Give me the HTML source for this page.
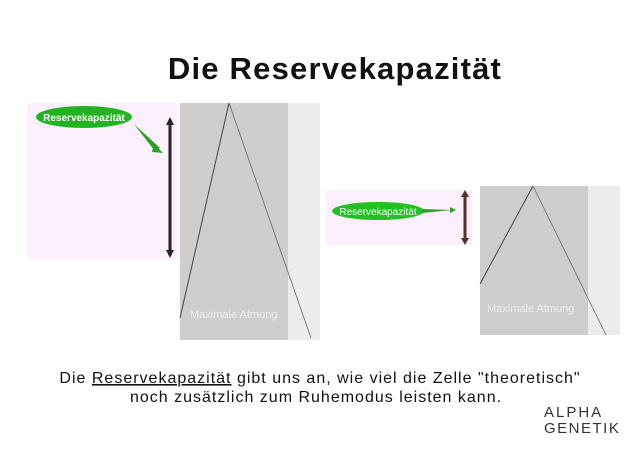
<!DOCTYPE html>
<html><head><meta charset="utf-8"><style>
body{margin:0;width:640px;height:454px;background:#fff;overflow:hidden;font-family:"Liberation Sans",sans-serif;}
</style></head><body>
<svg width="640" height="454" xmlns="http://www.w3.org/2000/svg" style="position:absolute;left:0;top:0">
<text x="335" y="79" text-anchor="middle" font-family="Liberation Sans" font-weight="bold" font-size="31" letter-spacing="1.2" fill="#111">Die Reservekapazität</text>
<!-- left -->
<rect x="27" y="103" width="150" height="156" fill="#fbf0fb"/>
<rect x="180" y="103" width="108" height="237" fill="#cdcdcd"/>
<rect x="288" y="103" width="32" height="237" fill="#ececec"/>
<line x1="229" y1="103" x2="180" y2="318" stroke="#444" stroke-width="1"/>
<line x1="229" y1="103" x2="311" y2="338" stroke="#666" stroke-width="0.8"/>
<text x="190" y="318" font-size="11" fill="#eee">Maximale Atmung</text>
<ellipse cx="84" cy="117" rx="48" ry="11" fill="#22b322"/>
<text x="84" y="121" text-anchor="middle" font-size="10" font-weight="bold" fill="#fff">Reservekapazität</text>
<polygon points="134,124 160,148 154,150" fill="#2aa02a"/>
<polygon points="154,144 163,153 152,152" fill="#2aa02a"/>
<line x1="170" y1="122" x2="170" y2="252" stroke="#222" stroke-width="3"/>
<polygon points="170,117 166,125 174,125" fill="#222"/>
<polygon points="170,258 166,250 174,250" fill="#222"/>
<!-- right -->
<rect x="326" y="190" width="146" height="55" fill="#fbf0fb"/>
<rect x="480" y="186" width="108" height="149" fill="#cdcdcd"/>
<rect x="588" y="186" width="32" height="149" fill="#ececec"/>
<line x1="533" y1="186" x2="480" y2="284" stroke="#444" stroke-width="1"/>
<line x1="533" y1="186" x2="606" y2="335" stroke="#666" stroke-width="0.8"/>
<text x="487" y="312" font-size="11" fill="#eee">Maximale Atmung</text>
<ellipse cx="378" cy="211" rx="46" ry="9" fill="#22c022"/>
<text x="378" y="215" text-anchor="middle" font-size="10" fill="#fff">Reservekapazität</text>
<polygon points="422,209 452,210 422,213" fill="#2aa02a"/>
<polygon points="450,207 456,210 450,213" fill="#2aa02a"/>
<line x1="465" y1="195" x2="465" y2="240" stroke="#5a2e2a" stroke-width="3"/>
<polygon points="465,190 461,197 469,197" fill="#5a2e2a"/>
<polygon points="465,245 461,238 469,238" fill="#5a2e2a"/>
<!-- text -->
<text x="320" y="383" text-anchor="middle" font-size="16" letter-spacing="1" fill="#111">Die <tspan text-decoration="underline">Reservekapazität</tspan> gibt uns an, wie viel die Zelle "theoretisch"</text>
<text x="316" y="402" text-anchor="middle" font-size="16" letter-spacing="1" fill="#111">noch zusätzlich zum Ruhemodus leisten kann.</text>
<text x="544" y="417" font-size="15" letter-spacing="2" fill="#333">ALPHA</text>
<text x="544" y="433" font-size="15" letter-spacing="1.5" fill="#333">GENETIK</text>
</svg>
</body></html>
